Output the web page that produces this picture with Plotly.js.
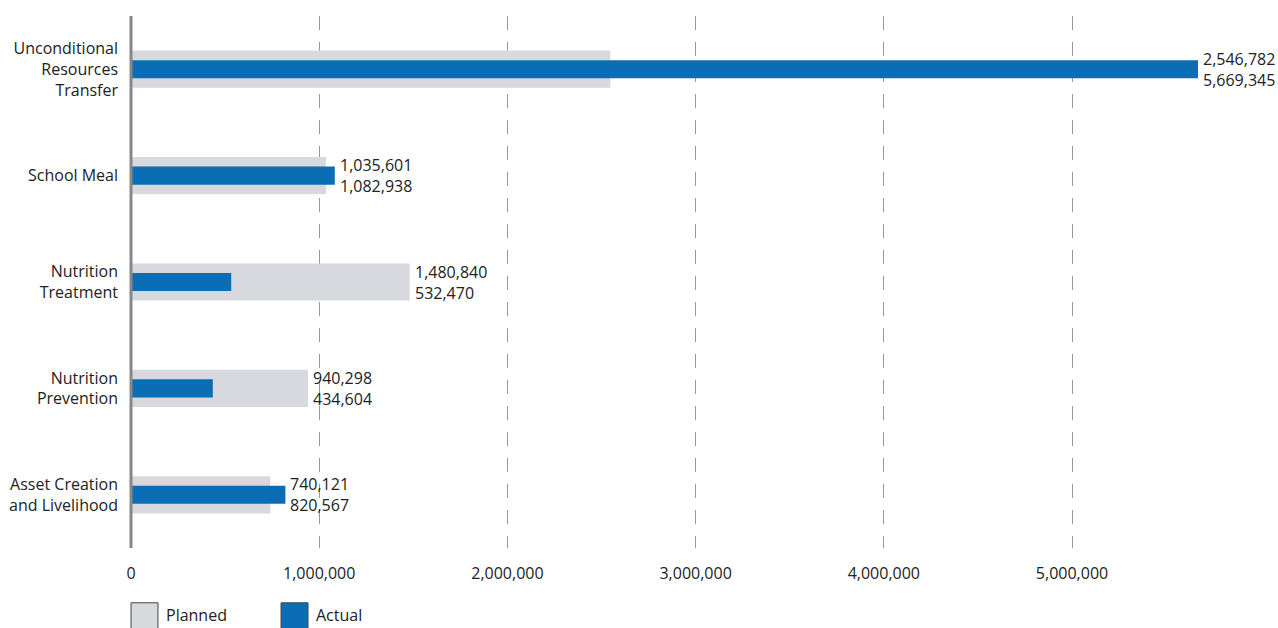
<!DOCTYPE html>
<html>
<head>
<meta charset="utf-8">
<script src="https://cdn.plot.ly/plotly-3.0.1.min.js"></script>
<style>html,body{margin:0;padding:0;background:#fff;}#chart{width:1278px;height:628px;}</style>
</head>
<body>
<div id="chart"></div>
<script>
const categories = ["Unconditional<br>Resources<br>Transfer", "School Meal", "Nutrition<br>Treatment", "Nutrition<br>Prevention", "Asset Creation<br>and Livelihood"];
const planned = [2546782, 1035601, 1480840, 940298, 740121];
const actual = [5669345, 1082938, 532470, 434604, 820567];
const tickVals = [0, 1000000, 2000000, 3000000, 4000000, 5000000];
const tickText = ["0", "1,000,000", "2,000,000", "3,000,000", "4,000,000", "5,000,000"];
const seriesNames = ["Planned", "Actual"];

const fmt = v => v.toLocaleString("en-US");
const font = "'Open Sans', sans-serif";
const gray = "#D8D9DE", blue = "#0B6EB4";
const fs = 16;

const traces = [
  {type: "bar", orientation: "h", y: categories, x: planned, name: seriesNames[0], width: 0.35,
   marker: {color: gray}, hoverinfo: "x"},
  {type: "bar", orientation: "h", y: categories, x: actual, name: seriesNames[1], width: 0.17,
   marker: {color: blue}, hoverinfo: "x"}
];

const annotations = categories.map((c, i) => ({
  x: Math.max(planned[i], actual[i]), y: c, xref: "x", yref: "y",
  text: fmt(planned[i]) + "<br>" + fmt(actual[i]),
  showarrow: false, xanchor: "left", yanchor: "middle", xshift: 4, align: "left",
  borderpad: 0, font: {family: font, size: fs, color: "#222"}
}));

// legend drawn manually
const shapes = [
  {type: "rect", xref: "paper", yref: "paper", x0: 0, x1: 0.0253, y0: -0.103, y1: -0.154,
   fillcolor: gray, line: {color: "#444", width: 1}},
  {type: "rect", xref: "paper", yref: "paper", x0: 0.1406, x1: 0.1659, y0: -0.103, y1: -0.154,
   fillcolor: blue, line: {color: "#444", width: 1}}
];
annotations.push(
  {xref: "paper", yref: "paper", x: 0.031, y: -0.126, text: seriesNames[0], showarrow: false,
   xanchor: "left", yanchor: "middle", font: {family: font, size: fs, color: "#222"}},
  {xref: "paper", yref: "paper", x: 0.1716, y: -0.126, text: seriesNames[1], showarrow: false,
   xanchor: "left", yanchor: "middle", font: {family: font, size: fs, color: "#222"}}
);

const layout = {
  width: 1278, height: 628,
  margin: {l: 131, r: 80, t: 16, b: 80},
  paper_bgcolor: "#fff", plot_bgcolor: "#fff",
  barmode: "overlay",
  showlegend: false,
  font: {family: font, size: fs, color: "#222"},
  xaxis: {
    range: [0, 5669345], tickvals: tickVals, ticktext: tickText,
    showgrid: true, gridcolor: "#999", gridwidth: 1, griddash: "14px,12px",
    zeroline: false, showline: false, ticks: "",
    tickfont: {family: font, size: fs, color: "#222"}, ticklabelstandoff: 14
  },
  yaxis: {
    type: "category", range: [4.5, -0.5], showgrid: false, zeroline: false,
    showline: false, ticks: "", ticklabelstandoff: 12,
    tickfont: {family: font, size: fs, color: "#222"}
  },
  shapes: shapes.concat([
    {type: "line", xref: "paper", yref: "paper", x0: 0, x1: 0, y0: 0, y1: 1,
     line: {color: "#888", width: 3}}
  ]),
  annotations: annotations
};

Plotly.newPlot("chart", traces, layout, {displayModeBar: false, staticPlot: true});
</script>
</body>
</html>
